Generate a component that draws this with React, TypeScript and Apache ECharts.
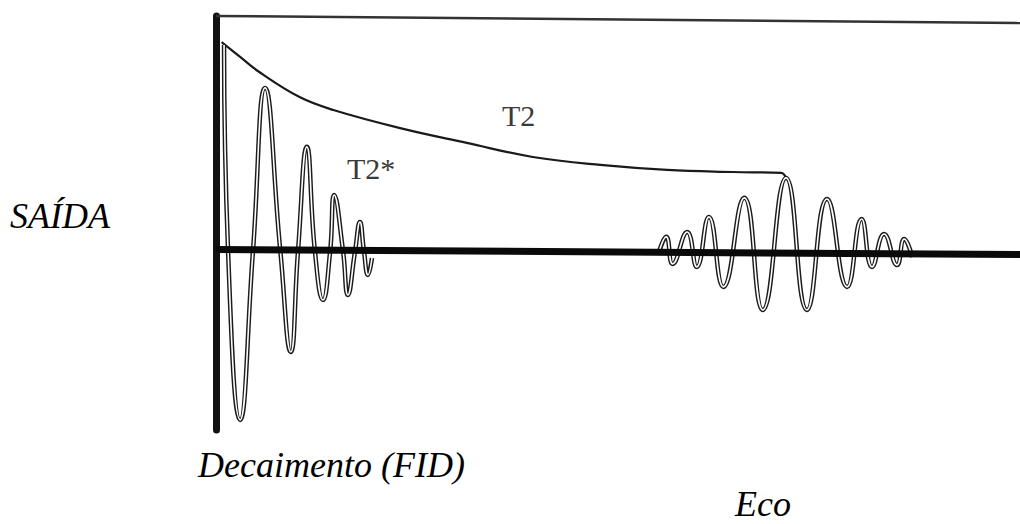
import React, { useEffect, useRef } from "react";
import * as echarts from "echarts";

// Time axis (arbitrary units 0-100) and amplitude (arbitrary units)
const fidTime = [1.0, 1.5, 3.0, 4.6, 6.1, 8.0, 9.3, 10.2, 11.3, 12.3, 13.3, 14.2, 14.7, 15.8, 16.4, 17.3, 17.9, 18.4, 18.9, 19.4];
const fidAmp = [0.877, 0, -0.719, 0, 0.694, 0, -0.43, 0, 0.443, 0, -0.209, 0, 0.238, 0, -0.187, 0, 0.123, 0, -0.102, -0.03];

const echoTime = [55.0, 56.0, 56.8, 58.6, 59.8, 61.3, 63.1, 65.7, 68.0, 70.9, 73.5, 76.0, 78.5, 80.3, 81.6, 83.1, 84.7, 85.6, 86.6];
const echoAmp = [-0.017, 0.06, -0.055, 0.081, -0.068, 0.145, -0.153, 0.226, -0.251, 0.311, -0.251, 0.221, -0.153, 0.136, -0.068, 0.072, -0.06, 0.051, -0.026];

const t2Time = [0.7, 3.0, 5.2, 10.4, 14.6, 22.9, 31.2, 39.4, 47.8, 56.1, 64.3, 70.3, 70.9];
const t2Amp = [0.889, 0.826, 0.766, 0.655, 0.6, 0.523, 0.46, 0.4, 0.366, 0.345, 0.336, 0.332, 0.311];

const baseTime = [0, 100];
const baseAmp = [0.006, -0.015];
const topTime = [0, 100];
const topAmp = [1.0, 0.97];

const labels = {
  output: "SAÍDA",
  fid: "Decaimento (FID)",
  echo: "Eco",
  t2: "T2",
  t2star: "T2*",
};

const zip = (a: number[], b: number[]) => a.map((v, i) => [v, b[i]]);

export default function App() {
  const ref = useRef<HTMLDivElement>(null);
  useEffect(() => {
    if (!ref.current) return;
    const chart = echarts.init(ref.current, null, { renderer: "svg" });
    const fid = zip(fidTime, fidAmp);
    const echo = zip(echoTime, echoAmp);
    const serif = "Liberation Serif";
    const traceOuter = { width: 4.5, color: "#1c1c1c" };
    const traceInner = { width: 1.6, color: "#ffffff" };
    const big = { fontFamily: serif, fontStyle: "italic", fontSize: 36, fill: "#000" };
    const small = { fontFamily: serif, fontSize: 30, fill: "#3a3a3a" };
    chart.setOption({
      animation: false,
      backgroundColor: "#ffffff",
      grid: { left: 216, right: 0, top: 16, bottom: 94 },
      xAxis: {
        type: "value",
        min: 0,
        max: 100,
        axisLine: { show: false },
        axisTick: { show: false },
        axisLabel: { show: false },
        splitLine: { show: false },
      },
      yAxis: {
        type: "value",
        min: -0.762,
        max: 1,
        axisLine: { show: true, lineStyle: { color: "#111", width: 7 } },
        axisTick: { show: false },
        axisLabel: { show: false },
        splitLine: { show: false },
      },
      series: [
        {
          name: "top",
          type: "line",
          data: zip(topTime, topAmp),
          symbol: "none",
          clip: false,
          lineStyle: { width: 2.5, color: "#333" },
        },
        {
          name: "T2",
          type: "line",
          data: zip(t2Time, t2Amp),
          smooth: 0.4,
          symbol: "none",
          lineStyle: { width: 2.2, color: "#1a1a1a" },
        },
        { name: "FID", type: "line", data: fid, smooth: 0.5, symbol: "none", lineStyle: traceOuter },
        { name: "FID-in", type: "line", data: fid, smooth: 0.5, symbol: "none", lineStyle: traceInner },
        { name: "Eco", type: "line", data: echo, smooth: 0.5, symbol: "none", lineStyle: traceOuter },
        { name: "Eco-in", type: "line", data: echo, smooth: 0.5, symbol: "none", lineStyle: traceInner },
        {
          name: "base",
          type: "line",
          data: zip(baseTime, baseAmp),
          symbol: "none",
          clip: false,
          lineStyle: { width: 7, color: "#0a0a0a" },
        },
      ],
      graphic: [
        { type: "text", left: 10, top: 198, style: { text: labels.output, ...big } },
        { type: "text", left: 198, top: 447, style: { text: labels.fid, ...big } },
        { type: "text", left: 735, top: 486, style: { text: labels.echo, ...big } },
        { type: "text", left: 502, top: 100, style: { text: labels.t2, ...small } },
        { type: "text", left: 347, top: 153, style: { text: labels.t2star, ...small } },
      ],
    });
    return () => chart.dispose();
  }, []);
  return (
    <div
      ref={ref}
      style={{ position: "fixed", left: 0, top: 0, width: 1020, height: 524, background: "#fff" }}
    />
  );
}
